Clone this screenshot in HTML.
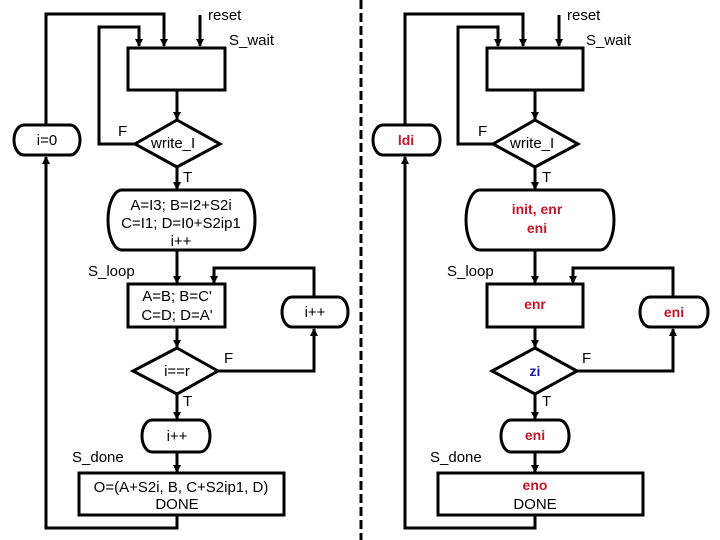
<!DOCTYPE html>
<html><head><meta charset="utf-8"><style>
html,body{margin:0;padding:0;background:#fff}
svg{display:block}
text{font-family:"Liberation Sans",Arial,sans-serif;font-size:15px;fill:#000}
.r{fill:#c0182a;font-weight:bold;font-size:14px}
.b{fill:#1a1aaa;font-weight:bold;font-size:14px}
</style></head><body>
<svg width="720" height="540" viewBox="0 0 720 540" xmlns="http://www.w3.org/2000/svg">
<defs>
<marker id="a" markerWidth="8" markerHeight="8" refX="7" refY="4" orient="auto" markerUnits="userSpaceOnUse">
<path d="M0,0 L8,4 L0,8 z" fill="#000"/></marker>
</defs>
<g fill="none" stroke="#000" stroke-width="3">
<line x1="361" y1="0" x2="361" y2="540" stroke-dasharray="9,4"/>

<polyline points="46,125 46,14 164,14 164,46" marker-end="url(#a)"/>
<polyline points="135,144 99,144 99,27 139,27 139,46" marker-end="url(#a)"/>
<line x1="200" y1="15" x2="200" y2="46" marker-end="url(#a)"/>
<rect x="128" y="48" width="97" height="42"/>
<line x1="177" y1="90" x2="177" y2="119" marker-end="url(#a)"/>
<polygon points="177,120 220,144 177,167 135,144"/>
<line x1="177" y1="167" x2="177" y2="189" marker-end="url(#a)"/>
<path d="M24 125 H70 A10 15 0 0 1 70 155 H24 A10 15 0 0 1 24 125 Z"/>
<path d="M122 190 H241 A14 30 0 0 1 241 250 H122 A14 30 0 0 1 122 190 Z"/>
<line x1="177" y1="250" x2="177" y2="283" marker-end="url(#a)"/>
<polyline points="314,297 314,268 214,268 214,283" marker-end="url(#a)"/>
<rect x="128" y="284" width="97" height="43"/>
<line x1="177" y1="327" x2="177" y2="347" marker-end="url(#a)"/>
<polygon points="177,348 218,371 177,394 133,371"/>
<polyline points="218,371 314,371 314,329" marker-end="url(#a)"/>
<path d="M292 297 H338 A10 15 0 0 1 338 327 H292 A10 15 0 0 1 292 297 Z"/>
<line x1="177" y1="394" x2="177" y2="419" marker-end="url(#a)"/>
<path d="M152 420 H200 A10 16 0 0 1 200 452 H152 A10 16 0 0 1 152 420 Z"/>
<line x1="177" y1="452" x2="177" y2="472" marker-end="url(#a)"/>
<rect x="79" y="473" width="205" height="42"/>
<polyline points="177,515 177,528 46,528 46,157" marker-end="url(#a)"/>

<polyline points="405,125 405,14 523,14 523,46" marker-end="url(#a)"/>
<polyline points="493,144 458,144 458,27 498,27 498,46" marker-end="url(#a)"/>
<line x1="559" y1="15" x2="559" y2="46" marker-end="url(#a)"/>
<rect x="487" y="48" width="96" height="42"/>
<line x1="535" y1="90" x2="535" y2="119" marker-end="url(#a)"/>
<polygon points="535,120 578,144 535,167 493,144"/>
<line x1="535" y1="167" x2="535" y2="189" marker-end="url(#a)"/>
<path d="M383 125 H430 A10 15 0 0 1 430 155 H383 A10 15 0 0 1 383 125 Z"/>
<path d="M480 190 H600 A14 30 0 0 1 600 250 H480 A14 30 0 0 1 480 190 Z"/>
<line x1="535" y1="250" x2="535" y2="283" marker-end="url(#a)"/>
<polyline points="673,297 673,268 573,268 573,283" marker-end="url(#a)"/>
<rect x="487" y="284" width="96" height="43"/>
<line x1="535" y1="327" x2="535" y2="347" marker-end="url(#a)"/>
<polygon points="535,348 577,371 535,394 492,371"/>
<polyline points="577,371 673,371 673,329" marker-end="url(#a)"/>
<path d="M650 297 H698 A10 15 0 0 1 698 327 H650 A10 15 0 0 1 650 297 Z"/>
<line x1="535" y1="394" x2="535" y2="419" marker-end="url(#a)"/>
<path d="M511 420 H559 A10 16 0 0 1 559 452 H511 A10 16 0 0 1 511 420 Z"/>
<line x1="535" y1="452" x2="535" y2="472" marker-end="url(#a)"/>
<rect x="438" y="473" width="205" height="42"/>
<polyline points="535,515 535,528 405,528 405,157" marker-end="url(#a)"/>
</g>

<text x="208" y="20">reset</text>
<text x="229" y="45">S_wait</text>
<text x="118" y="136">F</text>
<text x="151" y="148">write_I</text>
<text x="47" y="145" text-anchor="middle">i=0</text>
<text x="183" y="182">T</text>
<text x="181" y="210" text-anchor="middle">A=I3; B=I2+S2i</text>
<text x="181" y="228" text-anchor="middle">C=I1; D=I0+S2ip1</text>
<text x="181" y="246" text-anchor="middle">i++</text>
<text x="88" y="276">S_loop</text>
<text x="177" y="301" text-anchor="middle">A=B; B=C'</text>
<text x="177" y="320" text-anchor="middle">C=D; D=A'</text>
<text x="315" y="317" text-anchor="middle">i++</text>
<text x="177" y="376" text-anchor="middle">i==r</text>
<text x="224" y="363">F</text>
<text x="183" y="406">T</text>
<text x="177" y="441" text-anchor="middle">i++</text>
<text x="72" y="462">S_done</text>
<text x="181" y="492" text-anchor="middle">O=(A+S2i, B, C+S2ip1, D)</text>
<text x="177" y="509" text-anchor="middle">DONE</text>

<text x="567" y="20">reset</text>
<text x="586" y="45">S_wait</text>
<text x="478" y="136">F</text>
<text x="510" y="148">write_I</text>
<text class="r" x="406" y="145" text-anchor="middle">ldi</text>
<text x="542" y="182">T</text>
<text class="r" x="537" y="214" text-anchor="middle">init, enr</text>
<text class="r" x="537" y="233" text-anchor="middle">eni</text>
<text x="447" y="276">S_loop</text>
<text class="r" x="535" y="309" text-anchor="middle">enr</text>
<text class="r" x="674" y="317" text-anchor="middle">eni</text>
<text class="b" x="535" y="376" text-anchor="middle">zi</text>
<text x="582" y="363">F</text>
<text x="542" y="406">T</text>
<text class="r" x="535" y="440" text-anchor="middle">eni</text>
<text x="430" y="462">S_done</text>
<text class="r" x="535" y="490" text-anchor="middle">eno</text>
<text x="535" y="509" text-anchor="middle">DONE</text>
</svg>
</body></html>
